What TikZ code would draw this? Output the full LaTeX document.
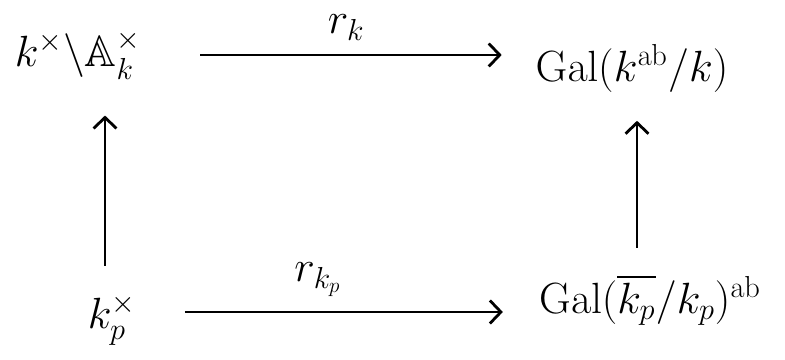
\documentclass[tikz,border=0pt]{standalone}
\usepackage{amssymb}
\usetikzlibrary{arrows.meta,positioning}
\tikzset{
  obj/.style={inner sep=2pt,font=\fontsize{25}{29}\selectfont},
  maplabel/.style={inner sep=2pt,font=\fontsize{25}{29}\selectfont},
  maparrow/.style={-{Straight Barb[length=2.2mm,width=4.6mm]},line width=1.6pt,black}
}

\begin{document}
\begin{tikzpicture}
    \useasboundingbox (0,0) rectangle (15.7,7.2);
    \node[obj] (idele) at (1.56,6.10) {$k^\times\backslash\mathbb{A}_k^\times$};
    \node[obj] (galk) at (12.64,5.84) {$\mathrm{Gal}(k^{\mathrm{ab}}/k)$};
    \node[obj] (local) at (2.24,0.80) {$k_p^\times$};
    \node[obj] (galloc) at (13.0,1.20) {$\mathrm{Gal}(\overline{k_p}/k_p)^{\mathrm{ab}}$};
    % horizontal maps
    \draw[maparrow,shorten <=1.1cm,shorten >=0.6cm] (idele.east) -- (idele.east -| galk.west)
      node[maplabel,pos=0.52,above=0.2cm] (rk) {$r_k$};
    \draw[maparrow,shorten <=0.9cm,shorten >=0.65cm] (local.east |- 0,0.96) -- (galloc.west |- 0,0.96)
      node[maplabel,pos=0.45,above=0.2cm] (rkp) {$r_{k_p}$};
    % vertical maps
    \draw[maparrow,shorten <=0.5cm,shorten >=0.65cm] (local.north -| 2.1,0) -- (idele.south -| 2.1,0);
    \draw[maparrow,shorten <=0.45cm,shorten >=0.5cm] (galloc.north -| 12.74,0) -- (galk.south -| 12.74,0);
\end{tikzpicture}
\end{document}
